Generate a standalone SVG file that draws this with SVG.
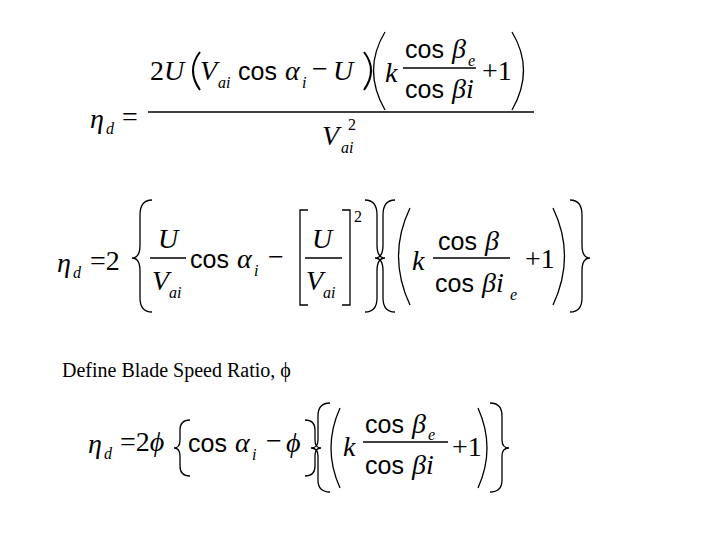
<svg xmlns="http://www.w3.org/2000/svg" width="720" height="540" viewBox="0 0 720 540">
<style>
.v{font-family:"Liberation Serif",serif;font-style:italic;font-size:28px;fill:#000}
.r{font-family:"Liberation Serif",serif;font-size:28px;fill:#000}
.s{font-family:"Liberation Sans",sans-serif;font-size:25px;fill:#000}
.sub{font-family:"Liberation Serif",serif;font-style:italic;font-size:16px;fill:#000}
.sup{font-family:"Liberation Serif",serif;font-size:16px;fill:#000}
.t{font-family:"Liberation Serif",serif;font-size:20px;fill:#000}
.ln{stroke:#000;stroke-width:2;fill:none}
.th{stroke:#000;stroke-width:1.3;fill:none}
</style>
<rect width="720" height="540" fill="#fff"/>
<g id="eq1">
<text class="v" x="90" y="128">η</text><text class="sub" x="106" y="134">d</text>
<text class="r" x="122" y="126">=</text>
<text class="r" x="150" y="80">2<tspan font-style="italic">U</tspan></text>
<path class="ln" d="M200 52 Q186 70 200 90"/>
<text class="v" x="200" y="80">V</text><text class="sub" x="218" y="88">ai</text>
<text class="s" x="238" y="80">cos</text>
<text class="v" x="285" y="80">α</text><text class="sub" x="302" y="88">i</text>
<text class="r" x="312" y="78">−</text>
<text class="v" x="333" y="80">U</text>
<path class="ln" d="M364 52 Q378 70 364 90"/>
<path class="th" d="M385 32 Q362 70 385 110"/>
<text class="v" x="385" y="82">k</text>
<text class="s" x="405" y="58">cos</text><text class="v" x="452" y="58">β</text><text class="sub" x="468" y="66">e</text>
<line class="th" x1="403" y1="68" x2="476" y2="68"/>
<text class="s" x="405" y="98">cos</text><text class="v" x="452" y="98">βi</text>
<text class="r" x="482" y="80">+1</text>
<path class="th" d="M512 32 Q535 70 512 110"/>
<line class="th" x1="148" y1="112" x2="534" y2="112"/>
<text class="v" x="322" y="145">V</text><text class="sub" x="341" y="153">ai</text><text class="sup" x="348" y="130">2</text>
</g>
<g id="eq2">
<text class="v" x="57" y="272">η</text><text class="sub" x="73" y="278">d</text>
<text class="r" x="90" y="270">=2</text>
<path class="th" d="M152 200 Q140 200 140 215 L140 245 Q140 258 132 258 Q140 258 140 271 L140 298 Q140 312 152 312"/>
<text class="v" x="158" y="248">U</text>
<line class="th" x1="150" y1="258" x2="186" y2="258"/>
<text class="v" x="152" y="290">V</text><text class="sub" x="169" y="298">ai</text>
<text class="s" x="190" y="268">cos</text><text class="v" x="237" y="268">α</text><text class="sub" x="254" y="276">i</text>
<text class="r" x="268" y="266">−</text>
<path class="th" d="M308 210 L300 210 L300 305 L308 305"/>
<text class="v" x="312" y="248">U</text>
<line class="th" x1="305" y1="258" x2="342" y2="258"/>
<text class="v" x="306" y="290">V</text><text class="sub" x="323" y="298">ai</text>
<path class="th" d="M342 210 L350 210 L350 305 L342 305"/>
<text class="sup" x="354" y="222">2</text>
<path class="th" d="M365 200 Q377 200 377 215 L377 245 Q377 258 385 258 Q377 258 377 271 L377 298 Q377 312 365 312"/>
<path class="th" d="M395 200 Q383 200 383 215 L383 245 Q383 258 375 258 Q383 258 383 271 L383 298 Q383 312 395 312"/>
<path class="th" d="M410 208 Q387 256 410 305"/>
<text class="v" x="412" y="270">k</text>
<text class="s" x="438" y="250">cos</text><text class="v" x="485" y="250">β</text>
<line class="th" x1="433" y1="258" x2="510" y2="258"/>
<text class="s" x="435" y="292">cos</text><text class="v" x="482" y="292">βi</text><text class="sub" x="510" y="300">e</text>
<text class="r" x="525" y="268">+1</text>
<path class="th" d="M553 208 Q576 256 553 305"/>
<path class="th" d="M570 200 Q582 200 582 215 L582 245 Q582 258 590 258 Q582 258 582 271 L582 298 Q582 312 570 312"/>
</g>
<text class="t" x="62" y="377">Define Blade Speed Ratio, ϕ</text>
<g id="eq3">
<text class="v" x="88" y="453">η</text><text class="sub" x="104" y="459">d</text>
<text class="r" x="120" y="451">=2<tspan font-style="italic">ϕ</tspan></text>
<path class="th" d="M190 420 Q180 420 180 430 L180 440 Q180 448 174 448 Q180 448 180 456 L180 466 Q180 476 190 476"/>
<text class="s" x="188" y="452">cos</text><text class="v" x="235" y="452">α</text><text class="sub" x="252" y="460">i</text>
<text class="r" x="266" y="450">−</text><text class="v" x="286" y="452">ϕ</text>
<path class="th" d="M305 420 Q315 420 315 430 L315 440 Q315 448 321 448 Q315 448 315 456 L315 466 Q315 476 305 476"/>
<path class="th" d="M330 403 Q318 403 318 416 L318 440 Q318 448 311 448 Q318 448 318 456 L318 480 Q318 492 330 492"/>
<path class="th" d="M340 408 Q322 448 340 488"/>
<text class="v" x="343" y="456">k</text>
<text class="s" x="365" y="433">cos</text><text class="v" x="412" y="433">β</text><text class="sub" x="428" y="440">e</text>
<line class="th" x1="363" y1="442" x2="448" y2="442"/>
<text class="s" x="365" y="474">cos</text><text class="v" x="412" y="474">βi</text>
<text class="r" x="452" y="456">+1</text>
<path class="th" d="M478 408 Q496 448 478 488"/>
<path class="th" d="M490 403 Q502 403 502 416 L502 440 Q502 448 509 448 Q502 448 502 456 L502 480 Q502 492 490 492"/>
</g>
</svg>
